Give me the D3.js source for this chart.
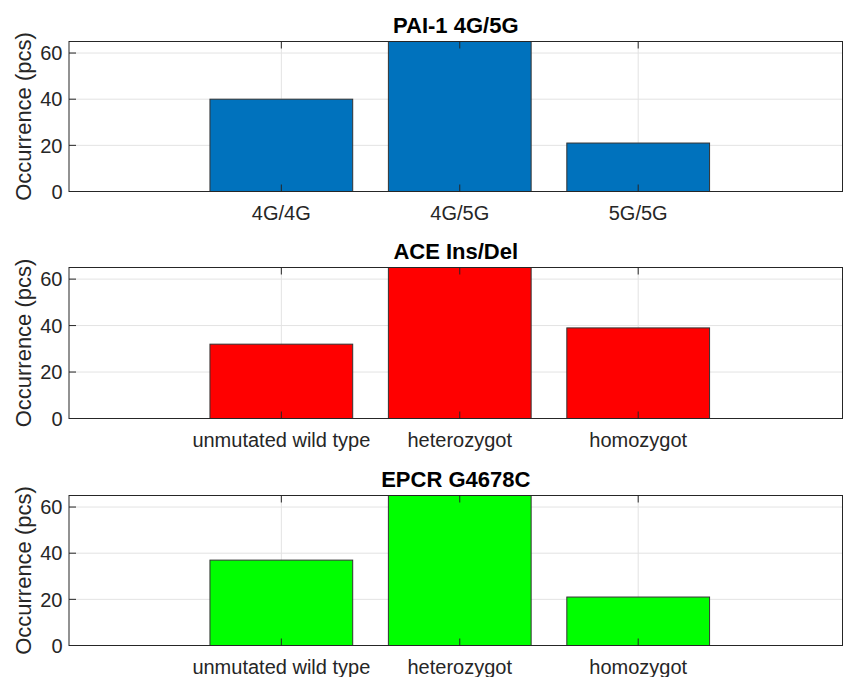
<!DOCTYPE html>
<html>
<head>
<meta charset="utf-8">
<script src="https://cdn.jsdelivr.net/npm/d3@7"></script>
<style>
  html, body { margin: 0; padding: 0; background: #fff; }
  svg { display: block; font-family: "Liberation Sans", Arial, Helvetica, sans-serif; }
</style>
</head>
<body>
<svg id="chart" width="843" height="677"></svg>
<script>
// Genotype counts for three polymorphisms
const titles = ["PAI-1 4G/5G", "ACE Ins/Del", "EPCR G4678C"];
const paiLabels = ["4G/4G", "4G/5G", "5G/5G"];
const genotypeLabels = ["unmutated wild type", "heterozygot", "homozygot"];
const paiValues = [40, 76, 21];
const aceValues = [32, 66, 39];
const epcrValues = [37, 79, 21];
const barColors = ["#0072BD", "#FF0000", "#00FF00"];
const yTicks = [0, 20, 40, 60];
const yMax = 65;
const yLabel = "Occurrence (pcs)";

const panels = [
  { title: titles[0], labels: paiLabels, values: paiValues, color: barColors[0], top: 41.5, bottom: 191.5 },
  { title: titles[1], labels: genotypeLabels, values: aceValues, color: barColors[1], top: 267.5, bottom: 418.5 },
  { title: titles[2], labels: genotypeLabels, values: epcrValues, color: barColors[2], top: 495.5, bottom: 645.5 }
];

const svg = d3.select("#chart");
const left = 69, right = 842.5;
const axisColor = "#262626";
const gridColor = "#e3e3e3";
const tickLen = 7;
const barWidth = 0.8;

// category positions 1..3 on a numeric axis
const x = d3.scaleLinear().domain([-0.19, 4.145]).range([left, right]);

panels.forEach((p, pi) => {
  const y = d3.scaleLinear().domain([0, yMax]).range([p.bottom, p.top]);
  const g = svg.append("g");
  const pos = p.labels.map((_, i) => i + 1);

  const clipId = "clip" + pi;
  svg.append("clipPath").attr("id", clipId)
    .append("rect").attr("x", left).attr("y", p.top)
    .attr("width", right - left).attr("height", p.bottom - p.top);

  // grid
  g.selectAll(".hgrid").data(yTicks).enter().append("line")
    .attr("x1", left).attr("x2", right)
    .attr("y1", d => y(d)).attr("y2", d => y(d))
    .attr("stroke", gridColor).attr("stroke-width", 1);
  g.selectAll(".vgrid").data(pos).enter().append("line")
    .attr("x1", d => x(d)).attr("x2", d => x(d))
    .attr("y1", p.top).attr("y2", p.bottom)
    .attr("stroke", gridColor).attr("stroke-width", 1);

  // bars
  g.append("g").attr("clip-path", `url(#${clipId})`)
    .selectAll("rect").data(p.values).enter().append("rect")
    .attr("x", (d, i) => x(pos[i] - barWidth / 2))
    .attr("width", (d, i) => x(pos[i] + barWidth / 2) - x(pos[i] - barWidth / 2))
    .attr("y", d => y(d))
    .attr("height", d => y(0) - y(d))
    .attr("fill", p.color)
    .attr("stroke", "#333")
    .attr("stroke-width", 1);

  // axes box
  g.append("rect")
    .attr("x", left).attr("y", p.top)
    .attr("width", right - left).attr("height", p.bottom - p.top)
    .attr("fill", "none").attr("stroke", axisColor).attr("stroke-width", 1);

  // inward ticks: x on bottom and top, y on left
  pos.forEach(d => {
    g.append("line").attr("x1", x(d)).attr("x2", x(d))
      .attr("y1", p.bottom).attr("y2", p.bottom - tickLen)
      .attr("stroke", axisColor);
    g.append("line").attr("x1", x(d)).attr("x2", x(d))
      .attr("y1", p.top).attr("y2", p.top + tickLen)
      .attr("stroke", axisColor);
  });
  yTicks.forEach(d => {
    g.append("line").attr("x1", left).attr("x2", left + tickLen)
      .attr("y1", y(d)).attr("y2", y(d))
      .attr("stroke", axisColor);
  });

  // tick labels
  g.selectAll(".ylab").data(yTicks).enter().append("text")
    .attr("x", left - 6.5).attr("y", d => y(d))
    .attr("dy", "0.36em")
    .attr("text-anchor", "end")
    .attr("font-size", 20)
    .attr("fill", axisColor)
    .text(d => d);
  g.selectAll(".xlab").data(p.labels).enter().append("text")
    .attr("x", (d, i) => x(pos[i])).attr("y", p.bottom + 28)
    .attr("text-anchor", "middle")
    .attr("font-size", 20)
    .attr("fill", axisColor)
    .text(d => d);

  // axis label
  const cy = (p.top + p.bottom) / 2;
  g.append("text")
    .attr("transform", `translate(31,${cy}) rotate(-90)`)
    .attr("text-anchor", "middle")
    .attr("font-size", 22)
    .attr("fill", axisColor)
    .text(yLabel);

  // title
  g.append("text")
    .attr("x", (left + right) / 2).attr("y", p.top - 8.5)
    .attr("text-anchor", "middle")
    .attr("font-size", 22)
    .attr("font-weight", "bold")
    .attr("fill", "#000")
    .text(p.title);
});
</script>
</body>
</html>
